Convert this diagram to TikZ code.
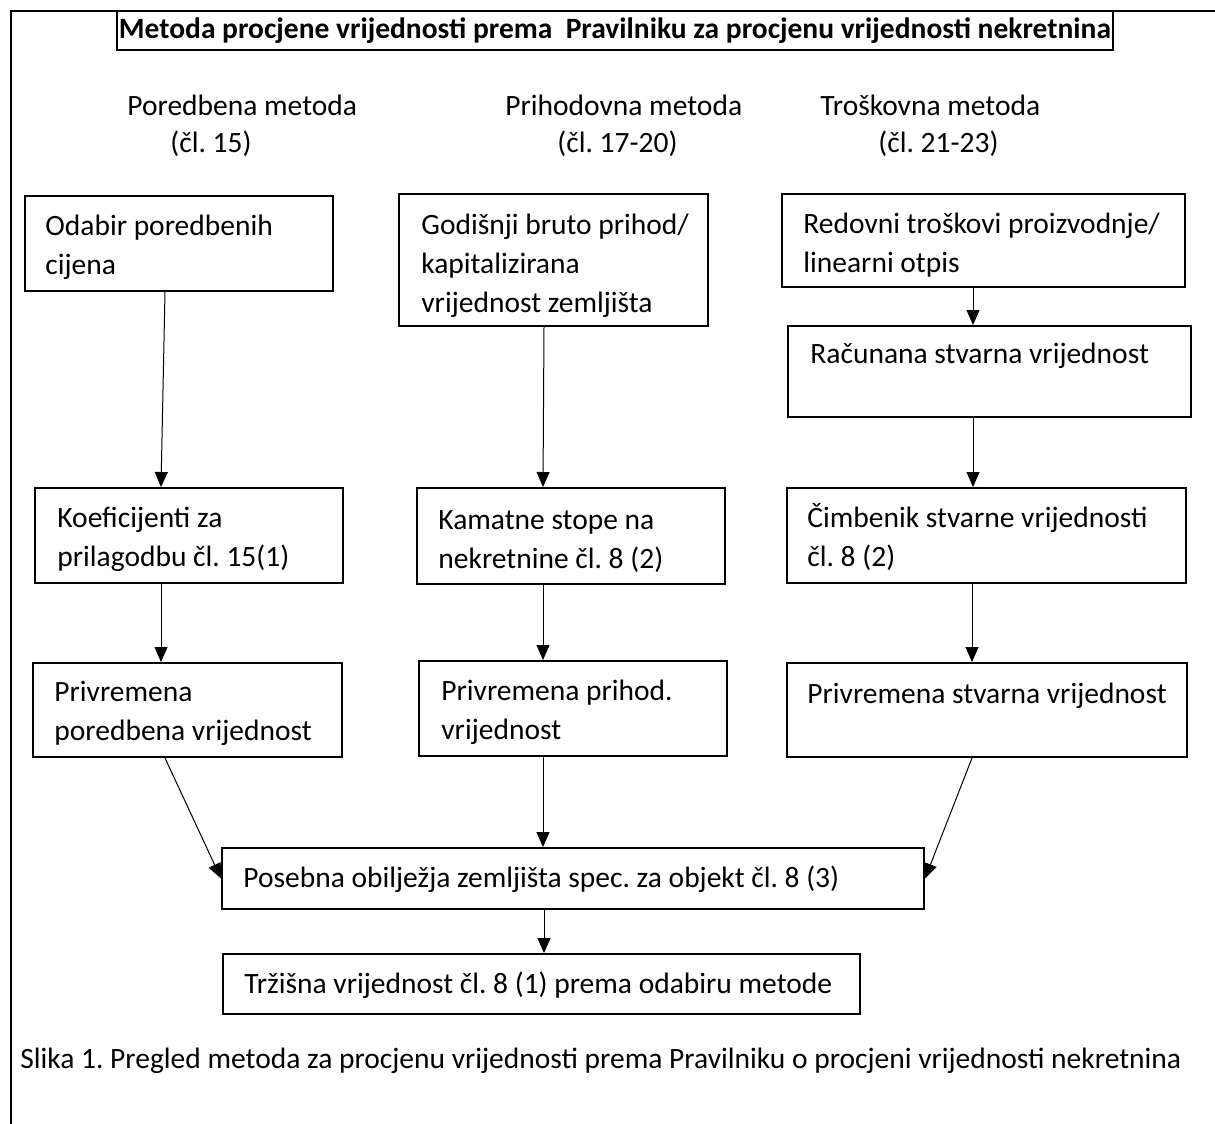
\documentclass[tikz,border=0pt]{standalone}
\usepackage{fontspec}
\setmainfont{Carlito}
\usetikzlibrary{arrows.meta,fit}
\frenchspacing
\tikzset{
  box/.style={draw,line width=1pt,inner sep=0pt},
  boxtext/.style={anchor=north west,align=left,inner sep=0pt},
  arr/.style={-{Triangle[width=6.5pt,length=7.5pt]},line width=0.5pt},
}

\begin{document}
\begin{tikzpicture}[x=0.5pt,y=-0.5pt,font=\fontsize{14.75}{19.5}\selectfont]
  \useasboundingbox (0,0) rectangle (1215,1124);
  \draw[line width=1.2pt] (1215,11)--(11,11)--(11,1124);
  \node[box,minimum width=498pt,minimum height=19.5pt] (naslov) at (615,30.5)
    {\textbf{Metoda procjene vrijednosti prema\ \ Pravilniku za procjenu vrijednosti nekretnina}};
  % zaglavlja metoda
  \node[anchor=base west,inner sep=0pt] (porH) at (127,115) {Poredbena metoda};
  \node[anchor=base west,inner sep=0pt] (porC) at (170,152) {(čl. 15)};
  \node[anchor=base west,inner sep=0pt] (priH) at (505,115) {Prihodovna metoda};
  \node[anchor=base west,inner sep=0pt] (priC) at (557,152) {(čl. 17-20)};
  \node[anchor=base west,inner sep=0pt] (troH) at (820,115) {Troškovna metoda};
  \node[anchor=base west,inner sep=0pt] (troC) at (878,152) {(čl. 21-23)};
  % okviri
  \foreach \n/\xa/\ya/\xb/\yb in {por1/25/196/333/291,por2/35/488/343/583,por3/33/663/342/757,
    pri1/399/194/708/326,pri2/417/488/725/584,pri3/419/661/727/756,
    tro1/782/194/1185/287,tro2/788/326/1191/417,tro3/787/488/1186/583,tro4/787/663/1187/757,
    posebna/222/848/924/909,trzisna/223/954/860/1014}{
    \node[box,fit={(\xa,\ya) (\xb,\yb)}] (\n) {};}
  % tekstovi
  \node[boxtext] (por1t) at (45,207.7) {\strut Odabir poredbenih\\cijena};
  \node[boxtext] (por2t) at (57,499.7) {\strut Koeficijenti za\\prilagodbu čl. 15(1)};
  \node[boxtext] (por3t) at (54,673.7) {\strut Privremena\\poredbena vrijednost};
  \node[boxtext] (pri1t) at (421,206.7) {\strut Godišnji bruto prihod/\\kapitalizirana\\vrijednost zemljišta};
  \node[boxtext] (pri2t) at (438,501.7) {\strut Kamatne stope na\\nekretnine čl. 8 (2)};
  \node[boxtext] (pri3t) at (441,672.7) {\strut Privremena prihod.\\vrijednost};
  \node[boxtext] (tro1t) at (803,205.7) {\strut Redovni troškovi proizvodnje/\\linearni otpis};
  \node[boxtext] (tro2t) at (810,335.7) {\strut Računana stvarna vrijednost};
  \node[boxtext] (tro3t) at (807,499.7) {\strut Čimbenik stvarne vrijednosti\\čl. 8 (2)};
  \node[boxtext] (tro4t) at (807,675.7) {\strut Privremena stvarna vrijednost};
  \node[boxtext] (posebnat) at (243,859.7) {\strut Posebna obilježja zemljišta spec. za objekt čl. 8 (3)};
  \node[boxtext] (trzisnat) at (244,965.7) {\strut Tržišna vrijednost čl. 8 (1) prema odabiru metode};
  % strelice
  \foreach \a/\b/\sa/\sb in {por1/por2/-7/-14,por2/por3/-14/-13.25,pri1/pri2/-4.75/-14,
    pri2/pri3/-14/-15,pri3/posebna/-15/-15,tro1/tro2/-5.25/-8.25,tro2/tro3/-8.25/-6.75,
    tro3/tro4/-7.25/-7.5,posebna/trzisna/-14.5/1.25}{
    \draw[arr] ([xshift=\sa pt]\a.south)--([xshift=\sb pt]\b.north);}
  \draw[arr] ([xshift=-11.25pt]por3.south)--(posebna.west);
  \draw[arr] ([xshift=-7.5pt]tro4.south)--(posebna.east);
  \node[anchor=base west,inner sep=0pt] (slika) at (20,1068)
    {Slika 1. Pregled metoda za procjenu vrijednosti prema Pravilniku o procjeni vrijednosti nekretnina};
\end{tikzpicture}
\end{document}
